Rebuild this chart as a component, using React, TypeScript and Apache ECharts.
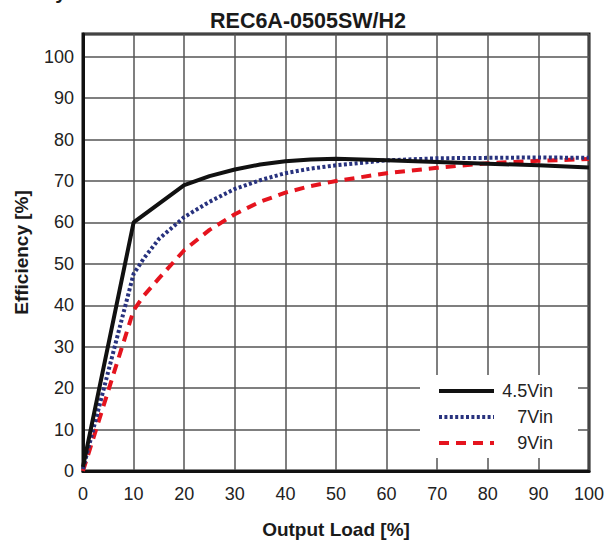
import React, { useEffect, useRef } from "react";
import * as echarts from "echarts";

const FONT = "'Liberation Sans', Arial, Helvetica, sans-serif";

const titleText = "REC6A-0505SW/H2";
const topText = "Efficiency vs. Load";
const xName = "Output Load [%]";
const yName = "Efficiency [%]";
const seriesNames = ["4.5Vin", "7Vin", "9Vin"];

const loads45 = [0, 10, 20, 25, 30, 35, 40, 45, 50, 60, 70, 80, 90, 100];
const eff45 = [1, 60, 69, 71.2, 72.8, 74, 74.8, 75.2, 75.4, 75, 74.6, 74.2, 73.8, 73.3];

const loads7 = [0, 10, 12, 15, 20, 25, 30, 35, 40, 45, 50, 60, 70, 80, 90, 100];
const eff7 = [0.5, 47.6, 51.3, 56, 61.3, 65, 68.1, 70.2, 71.9, 73, 73.8, 75, 75.5, 75.6, 75.7, 75.6];

const loads9 = [0, 10, 12, 15, 20, 25, 30, 35, 40, 45, 50, 60, 70, 80, 90, 100];
const eff9 = [0, 38.8, 42.3, 46.5, 53.3, 58.2, 62, 65, 67.2, 68.8, 70, 71.9, 73.2, 74.3, 74.9, 75.3];

const xTicks = [0, 10, 20, 30, 40, 50, 60, 70, 80, 90, 100];

const pair = (xs: number[], ys: number[]) => xs.map((x, i) => [x, ys[i]]);

export default function App() {
  const ref = useRef<HTMLDivElement>(null);
  useEffect(() => {
    if (!ref.current) return;
    const chart = echarts.init(ref.current, undefined, { renderer: "svg" });
    const colors = ["#111111", "#28327e", "#e5141e"];
    const lineTypes: any[] = ["solid", [3, 2.4], [10, 7]];
    const datas = [pair(loads45, eff45), pair(loads7, eff7), pair(loads9, eff9)];
    chart.setOption({
      animation: false,
      backgroundColor: "#ffffff",
      title: {
        text: titleText,
        left: 303,
        textAlign: "center",
        top: 5,
        textStyle: { fontFamily: FONT, fontSize: 21.5, fontWeight: "bold", color: "#1a1a1a" },
      },
      graphic: [
        {
          type: "text",
          left: -28,
          top: -18,
          style: {
            text: topText,
            fontFamily: FONT,
            fontSize: 20,
            fontWeight: "bold",
            fill: "#1a1a1a",
          },
        },
      ],
      grid: {
        left: 83,
        right: 20,
        top: 34,
        bottom: 79,
        show: true,
        borderColor: "#111",
        borderWidth: 3,
        backgroundColor: "transparent",
      },
      legend: {
        orient: "vertical",
        left: 420,
        top: 375,
        backgroundColor: "#ffffff",
        padding: [7, 25, 6, 17],
        itemWidth: 55,
        itemHeight: 14,
        itemGap: 8,
        itemStyle: { opacity: 0 },
        data: seriesNames.map((n, i) => ({
          name: n,
          itemStyle: { opacity: 0 },
          lineStyle: { width: 4, type: lineTypes[i], color: colors[i], cap: "butt" },
        })),
        formatter: (n: string) => `{a|${n}}`,
        textStyle: {
          fontFamily: FONT,
          fontSize: 18,
          color: "#222",
          rich: { a: { width: 54, align: "right", fontFamily: FONT, fontSize: 18, color: "#222" } },
        },
      },
      xAxis: {
        type: "value",
        min: 0,
        max: 100,
        interval: 10,
        name: xName,
        nameLocation: "middle",
        nameGap: 49,
        nameTextStyle: { fontFamily: FONT, fontSize: 19, fontWeight: "bold", color: "#1a1a1a" },
        axisLine: { show: true, onZero: false, lineStyle: { color: "#111", width: 3 } },
        axisTick: { show: false },
        axisLabel: {
          margin: 14,
          fontFamily: FONT,
          fontSize: 18,
          color: "#222",
          formatter: (v: number) => (xTicks.includes(v) ? String(v) : ""),
        },
        splitLine: { show: true, lineStyle: { color: "#555", width: 1.5 } },
      },
      yAxis: {
        type: "value",
        min: 0,
        max: 105.5,
        interval: 10,
        name: yName,
        nameLocation: "middle",
        nameGap: 52,
        nameRotate: 90,
        nameTextStyle: { fontFamily: FONT, fontSize: 19, fontWeight: "bold", color: "#1a1a1a" },
        axisLine: { show: true, onZero: false, lineStyle: { color: "#111", width: 3 } },
        axisTick: { show: false },
        axisLabel: {
          margin: 9,
          fontFamily: FONT,
          fontSize: 18,
          color: "#222",
          formatter: (v: number) => (v > 100 ? "" : String(v)),
        },
        splitLine: { show: true, lineStyle: { color: "#555", width: 1.5 } },
      },
      series: seriesNames.map((name, i) => ({
        name,
        type: "line",
        data: datas[i],
        symbol: "none",
        smooth: false,
        color: colors[i],
        lineStyle: { color: colors[i], width: 4, type: lineTypes[i], cap: "butt" },
        z: 5 - i,
      })),
    });
    return () => chart.dispose();
  }, []);
  return (
    <div
      ref={ref}
      style={{ position: "fixed", left: 0, top: 0, width: 609, height: 550 }}
    />
  );
}
